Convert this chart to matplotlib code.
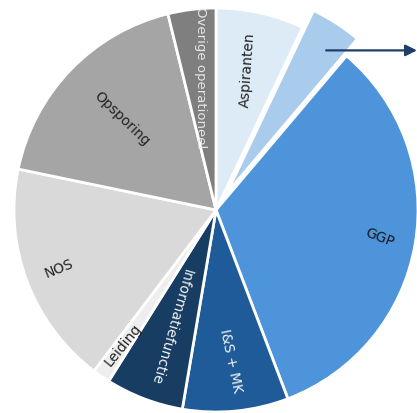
import numpy as np
import matplotlib.pyplot as plt

# slice shares (%), clockwise from 12 o'clock
labels = ["Aspiranten", "", "GGP", "I&S + MK", "Informatiefunctie",
          "Leiding", "NOS", "Opsporing", "Overige operationeel"]
values = [7.0, 4.1, 32.8, 8.4, 6.2, 1.4, 17.8, 17.8, 3.8]
colors = ["#DDEBF7", "#A9CBEC", "#4D94DB", "#1F5B98", "#173D63",
          "#EEEEEE", "#D9D9D9", "#A5A5A5", "#7F7F7F"]
text_colors = ["#222222", "#222222", "#1A1A1A", "#F2F2F2", "#F2F2F2",
               "#222222", "#222222", "#222222", "#E6E6E6"]
explode = [0, 0.1, 0, 0, 0, 0, 0, 0, 0]

# label placement: radius fraction, rotation, font size
label_r = [0.71, 0.0, 0.82, 0.75, 0.62, 0.81, 0.83, 0.65, 0.66]
label_rot = [86, 0, -21, -78, -106, 51, 22, -44, -90]
label_fs = [10, 10, 10, 10, 10, 10, 10, 10, 9.5]


def main():
    fig = plt.figure(figsize=(4.17, 4.13), dpi=100)
    ax = fig.add_axes([0, 0, 1, 1])

    wedges, _ = ax.pie(values, colors=colors, explode=explode,
                       startangle=90, counterclock=False,
                       wedgeprops=dict(edgecolor="white", linewidth=2))

    for w, lab, r, rot, fs, tc in zip(wedges, labels, label_r, label_rot,
                                      label_fs, text_colors):
        if not lab:
            continue
        mid = np.deg2rad((w.theta1 + w.theta2) / 2)
        ax.text(r * np.cos(mid), r * np.sin(mid), lab, rotation=rot,
                rotation_mode="anchor", ha="center", va="center",
                fontsize=fs, color=tc, family="DejaVu Sans")

    # arrow out of the exploded slice
    w = wedges[1]
    mid = np.deg2rad((w.theta1 + w.theta2) / 2 - 2)
    cx, cy = w.center
    x0, y0 = cx + 0.86 * np.cos(mid), cy + 0.86 * np.sin(mid)
    ax.annotate("", xy=(0.995, y0), xytext=(x0, y0),
                arrowprops=dict(arrowstyle="-|>", color="#1F3F66", lw=1.6,
                                mutation_scale=17, shrinkA=0, shrinkB=0))

    ax.set_aspect("auto")
    ax.set_xlim(-216 / 202, 201 / 202)
    ax.set_ylim(-203 / 202, 210 / 202)
    ax.axis("off")
    fig.savefig("out.png", dpi=100)


if __name__ == "__main__":
    main()
